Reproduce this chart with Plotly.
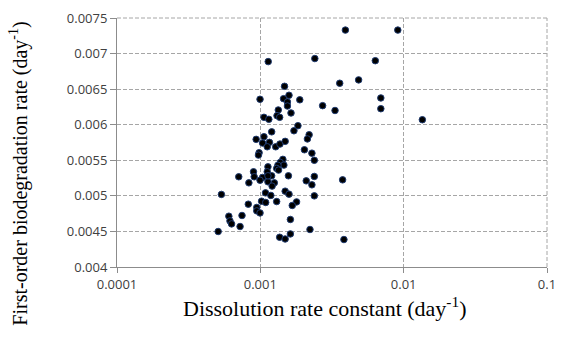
import plotly.graph_objects as go

# Dissolution rate constant (day^-1), first-order biodegradation rate (day^-1)
dissolution = [
    0.00392, 0.0091, 0.00240, 0.00634, 0.00358, 0.00485, 0.001885, 0.00272, 0.00332,
    0.00693, 0.00693, 0.0135, 0.00183, 0.00219, 0.00213, 0.00203, 0.00229, 0.00238,
    0.00238, 0.00209, 0.00229, 0.00375, 0.00238, 0.00179, 0.00222, 0.00383,
    0.001135, 0.001475, 0.000995, 0.001452, 0.001585, 0.001546, 0.001546,
    0.001334, 0.001637, 0.001307, 0.001364, 0.00106, 0.001146,
    0.001716, 0.0012, 0.00106, 0.000935, 0.001037, 0.001158, 0.001117, 0.00128,
    0.00137, 0.00149, 0.00098, 0.00097, 0.001436, 0.001377, 0.00146, 0.001326,
    0.0013, 0.00134, 0.00113, 0.001117, 0.000896, 0.0012, 0.001037, 0.000906,
    0.000707, 0.00157, 0.000995, 0.00113, 0.001252, 0.000832, 0.001208,
    0.000535, 0.001087, 0.001184, 0.00149, 0.001585, 0.00102, 0.00109, 0.0013,
    0.00167, 0.000824, 0.000944, 0.000944, 0.000995, 0.000745, 0.000603,
    0.000614, 0.00063, 0.000722, 0.000508, 0.00162, 0.001364, 0.00149, 0.00162,
    0.00113,
]
biodegradation = [
    0.00733, 0.00733, 0.00693, 0.0069, 0.006583, 0.00663, 0.00635, 0.006268, 0.0062,
    0.006376, 0.006225, 0.00607, 0.005986, 0.005859, 0.0058, 0.005648, 0.0056, 0.0055,
    0.005273, 0.005211, 0.005155, 0.005225, 0.005, 0.004915, 0.004527, 0.004386,
    0.006887, 0.00654, 0.006358, 0.006366, 0.006414, 0.00632, 0.006263,
    0.006207, 0.006165, 0.006127, 0.006104, 0.006104, 0.006076,
    0.005915, 0.0059, 0.005831, 0.005794, 0.005742, 0.005752, 0.00569, 0.00569,
    0.005728, 0.005766, 0.005606, 0.005573, 0.005513, 0.00547, 0.005432, 0.00543,
    0.005386, 0.005362, 0.005408, 0.005338, 0.005338, 0.005282, 0.005259, 0.005268,
    0.005268, 0.005282, 0.00522, 0.005197, 0.005183, 0.005183, 0.005137,
    0.00502, 0.005042, 0.005006, 0.005066, 0.005024, 0.004925, 0.004907, 0.00492,
    0.004865, 0.004883, 0.004837, 0.004789, 0.00476, 0.004724, 0.004714,
    0.004648, 0.004606, 0.004569, 0.004499, 0.004668, 0.004418, 0.004394, 0.004465,
    0.005282,
]

x_tickvals = [0.0001, 0.001, 0.01, 0.1]
x_ticktext = ["0.0001", "0.001", "0.01", "0.1"]
y_tickvals = [0.004, 0.0045, 0.005, 0.0055, 0.006, 0.0065, 0.007, 0.0075]
y_ticktext = ["0.004", "0.0045", "0.005", "0.0055", "0.006", "0.0065", "0.007", "0.0075"]

x_title = "Dissolution rate constant (day<sup>-1</sup>)"
y_title = "First-order biodegradation rate (day<sup>-1</sup>)"

fig = go.Figure()
fig.add_trace(go.Scatter(
    x=dissolution, y=biodegradation, mode="markers",
    marker=dict(size=6.5, color="black", line=dict(color="#1f3b70", width=1)),
    showlegend=False,
))

grid = "#a6a6a6"
dash = "4px,2px"
fig.update_layout(
    width=565, height=339,
    margin=dict(l=117, r=9, t=18, b=72),
    paper_bgcolor="white", plot_bgcolor="white",
    font=dict(family="Open Sans", size=13, color="#404040"),
    xaxis=dict(
        type="log", range=[-4, -1],
        tickvals=x_tickvals, ticktext=x_ticktext,
        ticklabeloverflow="allow",
        showgrid=True, gridcolor=grid, griddash=dash, gridwidth=1,
        showline=True, linecolor="#8c8c8c", linewidth=1,
        ticks="outside", ticklen=5, tickcolor="#8c8c8c",
        zeroline=False,
    ),
    yaxis=dict(
        range=[0.004, 0.0075],
        tickvals=y_tickvals, ticktext=y_ticktext,
        showgrid=True, gridcolor=grid, griddash=dash, gridwidth=1,
        showline=True, linecolor="#8c8c8c", linewidth=1,
        ticks="outside", ticklen=6, tickcolor="#8c8c8c",
        zeroline=False,
    ),
    shapes=[
        dict(type="line", xref="paper", yref="paper", x0=0, x1=1, y0=1, y1=1,
             line=dict(color=grid, width=1, dash=dash), layer="below"),
        dict(type="line", xref="paper", yref="paper", x0=1, x1=1, y0=0, y1=1,
             line=dict(color=grid, width=1, dash=dash), layer="below"),
    ],
    annotations=[
        dict(text=x_title, xref="paper", yref="paper", x=0.484, y=-0.162,
             xanchor="center", yanchor="middle", showarrow=False,
             font=dict(family="Liberation Serif", size=22, color="black")),
        dict(text=y_title, xref="paper", yref="paper", x=-0.229, y=0.373,
             xanchor="center", yanchor="middle", showarrow=False, textangle=-90,
             font=dict(family="Liberation Serif", size=20, color="black")),
    ],
)

fig.write_html("out.html")
